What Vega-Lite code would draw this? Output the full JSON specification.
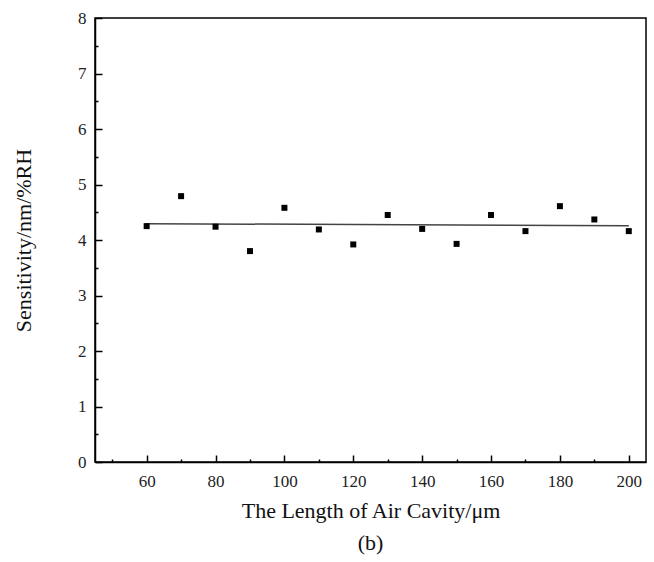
{
  "$schema": "https://vega.github.io/schema/vega-lite/v6.json",
  "width": 551,
  "height": 444,
  "autosize": "none",
  "padding": {"left": 95, "top": 18, "right": 8, "bottom": 100},
  "background": "white",
  "config": {
    "view": {"stroke": "black", "strokeWidth": 1.5},
    "font": "Liberation Serif"
  },
  "title": {"text": "(b)", "orient": "bottom", "anchor": "middle", "fontSize": 22, "font": "Liberation Serif", "fontWeight": "normal", "color": "#111", "offset": 12},
  "datasets": {
    "pts": [
      {"length": 60, "sens": 4.25},
      {"length": 70, "sens": 4.79},
      {"length": 80, "sens": 4.24},
      {"length": 90, "sens": 3.80},
      {"length": 100, "sens": 4.58},
      {"length": 110, "sens": 4.19},
      {"length": 120, "sens": 3.92},
      {"length": 130, "sens": 4.45},
      {"length": 140, "sens": 4.20},
      {"length": 150, "sens": 3.93},
      {"length": 160, "sens": 4.45},
      {"length": 170, "sens": 4.16},
      {"length": 180, "sens": 4.61},
      {"length": 190, "sens": 4.37},
      {"length": 200, "sens": 4.16}
    ],
    "fit": [
      {"length": 60, "sens": 4.295},
      {"length": 200, "sens": 4.255}
    ]
  },
  "resolve": {"axis": {"x": "independent", "y": "independent"}},
  "layer": [
    {
      "data": {"name": "fit"},
      "mark": {"type": "line", "color": "#444", "strokeWidth": 1.5},
      "encoding": {
        "x": {
          "field": "length", "type": "quantitative",
          "scale": {"domain": [45, 205], "nice": false, "zero": false},
          "axis": {
            "orient": "bottom",
            "title": null,
            "values": [50, 70, 90, 110, 130, 150, 170, 190],
            "labels": false,
            "domain": false,
            "grid": false,
            "tickSize": -3, "tickColor": "black", "tickWidth": 1.5
          }
        },
        "y": {
          "field": "sens", "type": "quantitative",
          "scale": {"domain": [0, 8], "nice": false},
          "axis": {
            "orient": "left",
            "title": null,
            "values": [0.5, 1.5, 2.5, 3.5, 4.5, 5.5, 6.5, 7.5],
            "labels": false,
            "domain": false,
            "grid": false,
            "tickSize": -3, "tickColor": "black", "tickWidth": 1.5
          }
        }
      }
    },
    {
      "data": {"name": "pts"},
      "mark": {"type": "point", "shape": "square", "filled": true, "color": "black", "opacity": 1, "size": 36},
      "encoding": {
        "x": {
          "field": "length", "type": "quantitative",
          "scale": {"domain": [45, 205], "nice": false, "zero": false},
          "axis": {
            "orient": "bottom",
            "title": "The Length of Air Cavity/μm",
            "values": [60, 80, 100, 120, 140, 160, 180, 200],
            "format": "d",
            "labelOverlap": false,
            "labelFlush": false,
            "tickSize": -7,
            "tickColor": "black", "tickWidth": 1.5,
            "domainColor": "black", "domainWidth": 1.5,
            "grid": false,
            "labelFont": "Liberation Serif", "labelFontSize": 17, "labelColor": "#222", "labelPadding": 18,
            "titleFont": "Liberation Serif", "titleFontSize": 22, "titleFontWeight": "normal", "titleColor": "#111", "titlePadding": 11
          }
        },
        "y": {
          "field": "sens", "type": "quantitative",
          "scale": {"domain": [0, 8], "nice": false},
          "axis": {
            "orient": "left",
            "title": "Sensitivity/nm/%RH",
            "values": [0, 1, 2, 3, 4, 5, 6, 7, 8],
            "format": "d",
            "labelOverlap": false,
            "labelFlush": false,
            "tickSize": -7,
            "tickColor": "black", "tickWidth": 1.5,
            "domainColor": "black", "domainWidth": 1.5,
            "grid": false,
            "labelFont": "Liberation Serif", "labelFontSize": 17, "labelColor": "#222", "labelPadding": 16,
            "titleFont": "Liberation Serif", "titleFontSize": 22, "titleFontWeight": "normal", "titleColor": "#111", "titlePadding": 42
          }
        }
      }
    }
  ]
}
